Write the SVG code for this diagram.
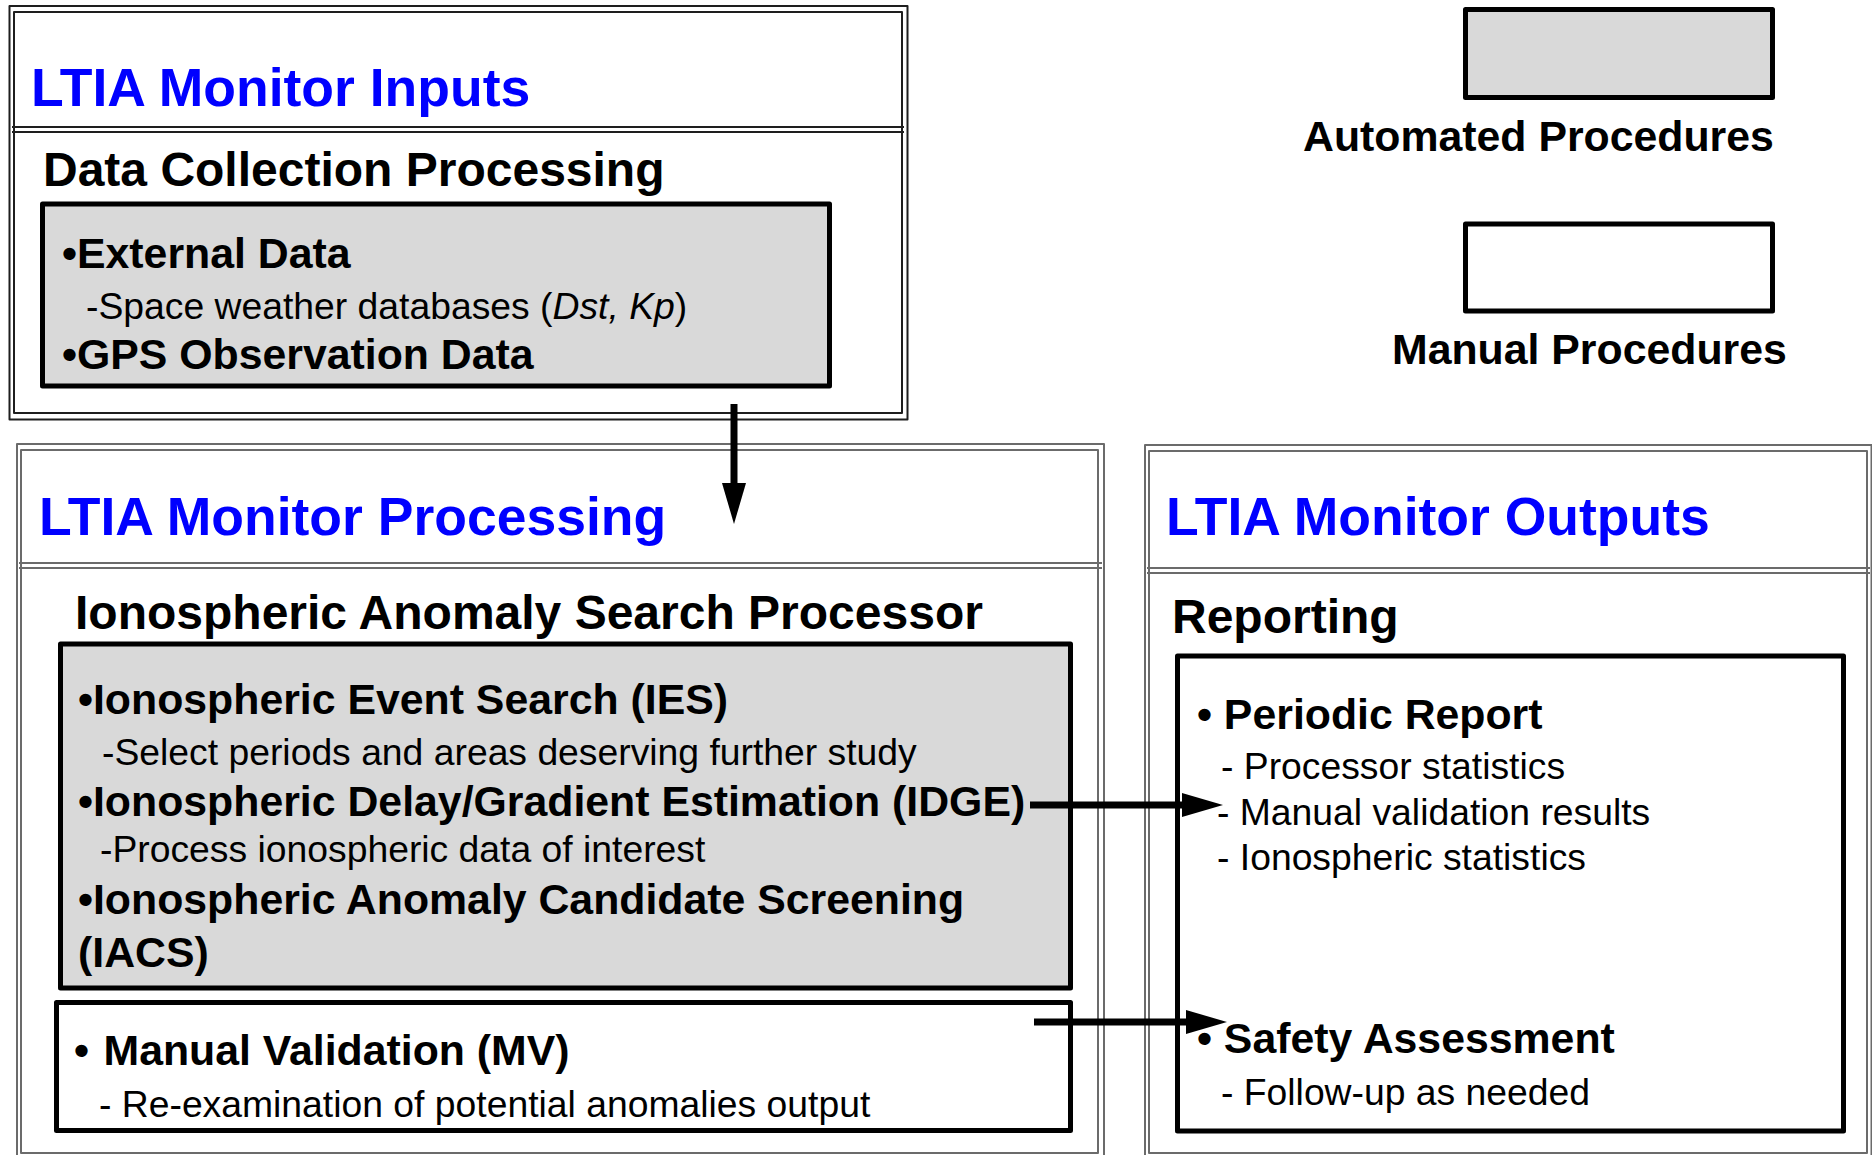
<svg xmlns="http://www.w3.org/2000/svg" width="1872" height="1155" viewBox="0 0 1872 1155">
<defs>
<style>
.frA{fill:none;stroke:#1e1e1e;stroke-width:2;stroke-linejoin:round}
.frB{fill:none;stroke:#6b6b6b;stroke-width:2;stroke-linejoin:round}
.auto{fill:#d9d9d9;stroke:#000;stroke-width:5;stroke-linejoin:round}
.man{fill:#fff;stroke:#000;stroke-width:5;stroke-linejoin:round}
text{font-family:"Liberation Sans",Arial,sans-serif;fill:#000}
.title{font-weight:bold;font-size:53.5px;fill:#0000ff}
.head{font-weight:bold;font-size:48px}
.item{font-weight:bold;font-size:42.8px}
.sub{font-size:37.3px}
.conn{fill:none;stroke:#000;stroke-width:7;marker-end:url(#ah)}
</style>
<marker id="ah" markerUnits="userSpaceOnUse" markerWidth="41" markerHeight="24" refX="0" refY="12" orient="auto">
<path d="M0,0 L41,12 L0,24 z" fill="#000"/>
</marker>
</defs>
<rect width="1872" height="1155" fill="#fff"/>

<g id="legend">
<rect class="auto" x="1465.5" y="9.5" width="307" height="88"/>
<text class="item" x="1303" y="151">Automated Procedures</text>
<rect class="man" x="1465.5" y="224" width="307" height="87"/>
<text class="item" x="1392" y="364">Manual Procedures</text>
</g>

<g id="inputs">
<rect class="frA" x="9.5" y="6" width="898" height="413.5"/>
<rect class="frA" x="14" y="12" width="888" height="401"/>
<line class="frA" x1="12" y1="127" x2="904" y2="127"/>
<line class="frA" x1="12" y1="132" x2="904" y2="132"/>
<text class="title" x="31" y="106">LTIA Monitor Inputs</text>
<text class="head" x="43" y="186">Data Collection Processing</text>
</g>

<g id="data-collection">
<rect class="auto" x="42.5" y="204" width="787" height="182"/>
<text class="item" x="62" y="268">•External Data</text>
<text class="sub" x="86" y="319">-Space weather databases (<tspan font-style="italic">Dst, Kp</tspan>)</text>
<text class="item" x="62" y="369">•GPS Observation Data</text>
</g>

<g id="processing">
<rect class="frB" x="17" y="444" width="1087" height="720"/>
<rect class="frB" x="21" y="450" width="1077" height="703"/>
<line class="frB" x1="19" y1="563" x2="1102" y2="563"/>
<line class="frB" x1="19" y1="568" x2="1102" y2="568"/>
<text class="title" x="39" y="535">LTIA Monitor Processing</text>
<text class="head" x="75" y="629">Ionospheric Anomaly Search Processor</text>
</g>

<g id="iasp">
<rect class="auto" x="60.5" y="644" width="1010" height="344"/>
<text class="item" x="78" y="714">•Ionospheric Event Search (IES)</text>
<text class="sub" x="102" y="765">-Select periods and areas deserving further study</text>
<text class="item" x="78" y="816">•Ionospheric Delay/Gradient Estimation (IDGE)</text>
<text class="sub" x="100" y="862">-Process ionospheric data of interest</text>
<text class="item" x="78" y="914">•Ionospheric Anomaly Candidate Screening</text>
<text class="item" x="78" y="967">(IACS)</text>
</g>

<g id="manual-validation">
<rect class="man" x="56.5" y="1002.5" width="1014" height="128"/>
<text class="item" x="74" y="1065">•<tspan x="103.5">Manual Validation (MV)</tspan></text>
<text class="sub" x="99" y="1117">- Re-examination of potential anomalies output</text>
</g>

<g id="outputs">
<rect class="frB" x="1145" y="445" width="726.5" height="720"/>
<rect class="frB" x="1149" y="451" width="718" height="702"/>
<line class="frB" x1="1147" y1="568" x2="1870" y2="568"/>
<line class="frB" x1="1147" y1="573" x2="1870" y2="573"/>
<text class="title" x="1166" y="535">LTIA Monitor Outputs</text>
<text class="head" x="1172" y="633">Reporting</text>
</g>

<g id="reporting">
<rect class="man" x="1177.5" y="656" width="666" height="475"/>
<text class="item" x="1197" y="729">• Periodic Report</text>
<text class="sub" x="1221" y="779">- Processor statistics</text>
<text class="sub" x="1217" y="825">- Manual validation results</text>
<text class="sub" x="1217" y="870">- Ionospheric statistics</text>
<text class="item" x="1197" y="1053">• Safety Assessment</text>
<text class="sub" x="1221" y="1105">- Follow-up as needed</text>
</g>

<g id="connectors">
<line class="conn" x1="734" y1="404" x2="734" y2="483"/>
<line class="conn" x1="1030" y1="805" x2="1182" y2="805"/>
<line class="conn" x1="1034" y1="1022" x2="1186" y2="1022"/>
</g>
</svg>
